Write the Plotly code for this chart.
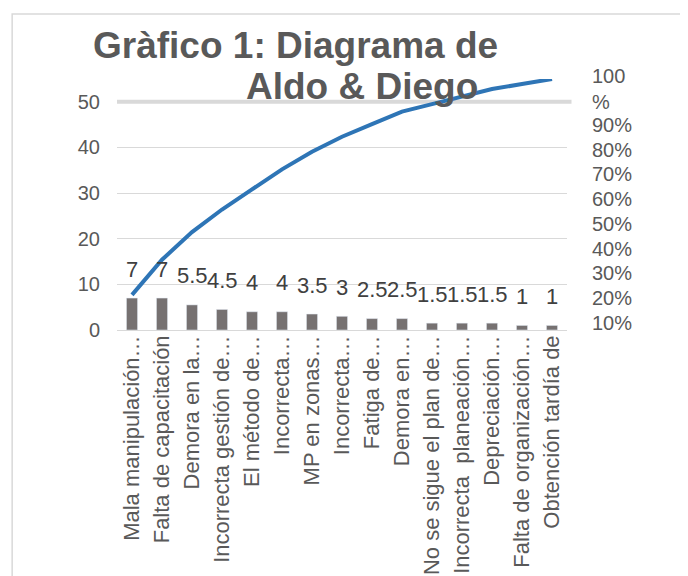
import plotly.graph_objects as go
import numpy as np

categories = [
    "Mala manipulación…", "Falta de capacitación", "Demora en la…",
    "Incorrecta gestión de…", "El método de…", "Incorrecta…",
    "MP en zonas…", "Incorrecta…", "Fatiga de…", "Demora en…",
    "No se sigue el plan de…", "Incorrecta  planeación…", "Depreciación…",
    "Falta de organización…", "Obtención tardía de",
]
values = [7, 7, 5.5, 4.5, 4, 4, 3.5, 3, 2.5, 2.5, 1.5, 1.5, 1.5, 1, 1]
left_ticks = [0, 10, 20, 30, 40, 50]
right_ticks = [0.1, 0.2, 0.3, 0.4, 0.5, 0.6, 0.7, 0.8, 0.9]
right_ticktext = ["10%", "20%", "30%", "40%", "50%", "60%", "70%", "80%", "90%"]
top_tick = [1.0]
top_ticktext = ["100<br>%"]

x = list(range(len(categories)))
cum = np.cumsum(values) / np.sum(values)

FONT = "Liberation Sans, Arial, sans-serif"
GRAY_TXT = "#595959"
GRID = "#D9D9D9"

fig = go.Figure()
fig.add_trace(go.Bar(x=x, y=values, width=0.37, marker_color="#767171",
                     showlegend=False, hoverinfo="skip"))
fig.add_trace(go.Scatter(x=x, y=cum, yaxis="y2", mode="lines",
                         line=dict(color="#2E75B6", width=4),
                         showlegend=False, hoverinfo="skip"))
fig.add_trace(go.Scatter(x=[], y=[], yaxis="y3", showlegend=False))

for xi, v in zip(x, values):
    fig.add_annotation(x=xi, y=v, xref="x", yref="y", text=f"{v:g}",
                       showarrow=False, yanchor="middle", yshift=29,
                       font=dict(family=FONT, size=22, color="#404040"))

# title
fig.add_annotation(xref="paper", yref="paper", x=-0.058, y=1.135,
                   xanchor="left", yanchor="middle", showarrow=False,
                   text="<b>Gràfico 1: Diagrama de</b>",
                   font=dict(family=FONT, size=37, color=GRAY_TXT))
fig.add_annotation(xref="paper", yref="paper", x=0.282, y=0.97,
                   xanchor="left", yanchor="middle", showarrow=False,
                   text="<b>Aldo & Diego</b>",
                   font=dict(family=FONT, size=37, color=GRAY_TXT))

# thicker top gridline
fig.add_shape(type="line", xref="paper", yref="y", x0=0, x1=1.01,
              y0=max(left_ticks), y1=max(left_ticks),
              line=dict(color=GRID, width=4), layer="below")
# chart border
fig.add_shape(type="rect", xref="paper", yref="paper",
              x0=-0.233, x1=1.258, y0=-1.2, y1=1.259,
              line=dict(color=GRID, width=1.5), layer="below")

fig.update_layout(
    width=680, height=568,
    margin=dict(l=109, r=121, t=71, b=246, autoexpand=False),
    paper_bgcolor="white", plot_bgcolor="white",
    font=dict(family=FONT, color=GRAY_TXT),
    xaxis=dict(range=[-0.5, len(categories) - 0.5], tickmode="array",
               tickvals=x, ticktext=categories, tickangle=-90,
               tickfont=dict(size=22, color=GRAY_TXT), showgrid=False,
               showline=False, zeroline=False, ticks="", ticklabelstandoff=0,
               automargin=False),
    yaxis=dict(range=[0, 55], tickvals=left_ticks, showgrid=True,
               gridcolor=GRID, gridwidth=1, zeroline=True, zerolinecolor=GRID,
               zerolinewidth=1, tickfont=dict(size=20, color=GRAY_TXT),
               ticklabelstandoff=16, showline=False, automargin=False),
    yaxis2=dict(range=[0, 1], overlaying="y", side="right", showgrid=False,
                tickvals=top_tick, ticktext=top_ticktext,
                tickfont=dict(size=20, color=GRAY_TXT), ticklabelstandoff=24,
                ticklabelshift=10, zeroline=False, showline=False,
                automargin=False),
    yaxis3=dict(range=[0.0717, 1.0858], overlaying="y", side="right",
                tickvals=right_ticks, ticktext=right_ticktext,
                showgrid=False, zeroline=False, showline=False,
                tickfont=dict(size=20, color=GRAY_TXT), ticklabelstandoff=24,
                automargin=False),
)

fig.write_html("out.html")
